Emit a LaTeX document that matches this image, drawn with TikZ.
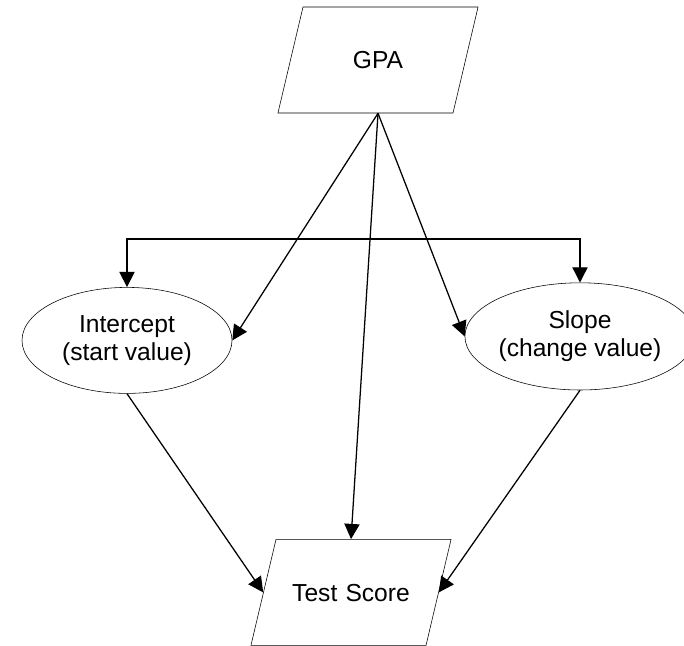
\documentclass[tikz,border=0pt]{standalone}
\usepackage{fontspec}
\setmainfont{Liberation Sans}
\usetikzlibrary{arrows.meta,shapes.geometric}

\begin{document}
\begin{tikzpicture}[
    every node/.style={font=\fontsize{17.5}{20}\selectfont},
    data/.style={draw, shape=trapezium, trapezium left angle=76.7, trapezium right angle=103.3, text width=3.75cm, align=center, text height=1.54cm, text depth=1.11cm, inner xsep=0pt, inner ysep=0pt},
    latent/.style={draw, ellipse, align=center, inner sep=0pt},
    flow/.style={-{Triangle[length=3.8mm, width=3.8mm]}, line width=0.9pt},
    both/.style={{Triangle[length=3.8mm, width=3.8mm]}-{Triangle[length=3.8mm, width=3.8mm]}, line width=0.9pt}
]
\useasboundingbox (0,0) rectangle (17.1,-16.15);
\node[data] (gpa) at (9.45,-1.5) {GPA};
\node[latent, minimum width=5.25cm, minimum height=2.65cm] (intercept) at (3.175,-8.51) {Intercept\\(start value)};
\node[latent, minimum width=5.15cm, minimum height=2.68cm] (slope) at (14.5,-8.41) {Slope\\(change value)};
\node[data] (score) at (8.775,-14.81) {Test Score};
\coordinate (bar) at (0,-5.975);
\draw[both] (intercept.north) -- (intercept.north |- bar) -- (slope.north |- bar) -- (slope.north);
\draw[flow] (gpa.south) -- (intercept.east);
\draw[flow] (gpa.south) -- (score.north);
\draw[flow] (gpa.south) -- (slope.west);
\draw[flow] (intercept.south) -- (score.west);
\draw[flow] (slope.south) -- (score.east);
\end{tikzpicture}
\end{document}
